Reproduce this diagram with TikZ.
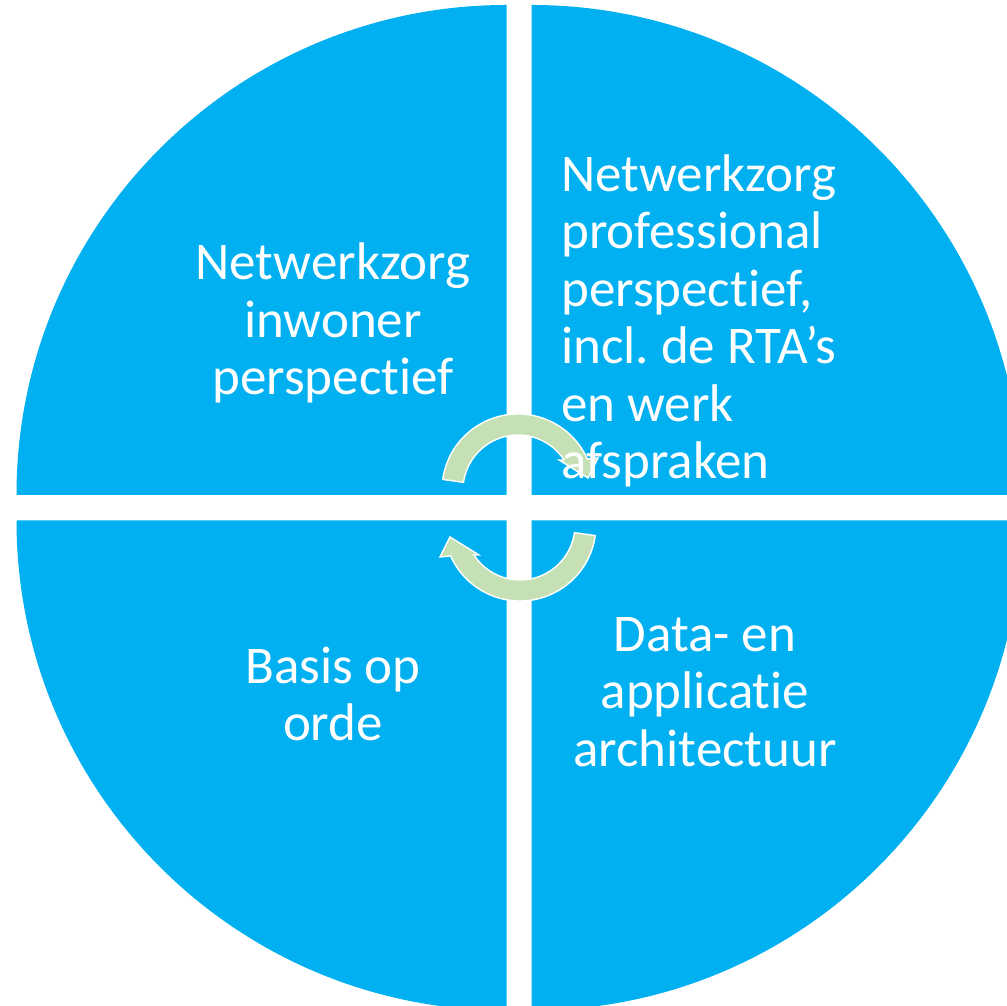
\documentclass[tikz,border=0pt]{standalone}
\usepackage{fontspec}
\setmainfont{Carlito}[Ligatures = NoCommon]
\definecolor{quadblue}{HTML}{00B0F0}
\definecolor{arrowgreen}{HTML}{C5E0B4}
\frenchspacing

\begin{document}
\begin{tikzpicture}[x = 1pt, y = 1pt]
    \tikzstyle{every node} = [text = white, inner sep = 0pt, font = \fontsize{53}{57.5}\selectfont];
    \tikzstyle{quad} = [fill = quadblue];
    \tikzstyle{turn} = [fill = arrowgreen, draw = white, line width = 1.4pt];
    \useasboundingbox (0,0) rectangle (1007,1006);
    \clip (0,0) rectangle (1007,1006);
    % quadrants:
    \fill[quad] (506.5,511) -- ++(90:490) arc[start angle = 90, end angle = 180, radius = 490] -- cycle;
    \fill[quad] (531.5,511) -- ++(0:490) arc[start angle = 0, end angle = 90, radius = 490] -- cycle;
    \fill[quad] (506.5,485.5) -- ++(180:490) arc[start angle = 180, end angle = 270, radius = 490] -- cycle;
    \fill[quad] (531.5,485.5) -- ++(270:490) arc[start angle = 270, end angle = 360, radius = 490] -- cycle;
    % arrows:
    \begin{scope}[shift = {(518,516)}]
      \draw[turn] (172:76) arc[start angle = 172, end angle = 24, radius = 76] -- (80,32) -- (70,12) -- (41,30)
        -- (33:55) arc[start angle = 33, end angle = 172, radius = 55] -- cycle;
    \end{scope}
    \begin{scope}[shift = {(520,481)}, rotate = 180]
      \draw[turn] (172:76) arc[start angle = 172, end angle = 24, radius = 76] -- (80,32) -- (70,12) -- (41,30)
        -- (33:55) arc[start angle = 33, end angle = 172, radius = 55] -- cycle;
    \end{scope}
    % labels:
    \node[align = center] (inwoner) at (333,683) {Netwerkzorg\\inwoner\\perspectief};
    \node[align = left, anchor = west] (professional) at (561,685) {Netwerkzorg\\professional\\perspectief,\\incl. de RTA’s\\en werk\\afspraken};
    \node[align = center] (basis) at (333,312) {Basis op\\orde};
    \node[align = center] (architectuur) at (705,314) {Data- en\\applicatie\\architectuur};
\end{tikzpicture}
\end{document}
